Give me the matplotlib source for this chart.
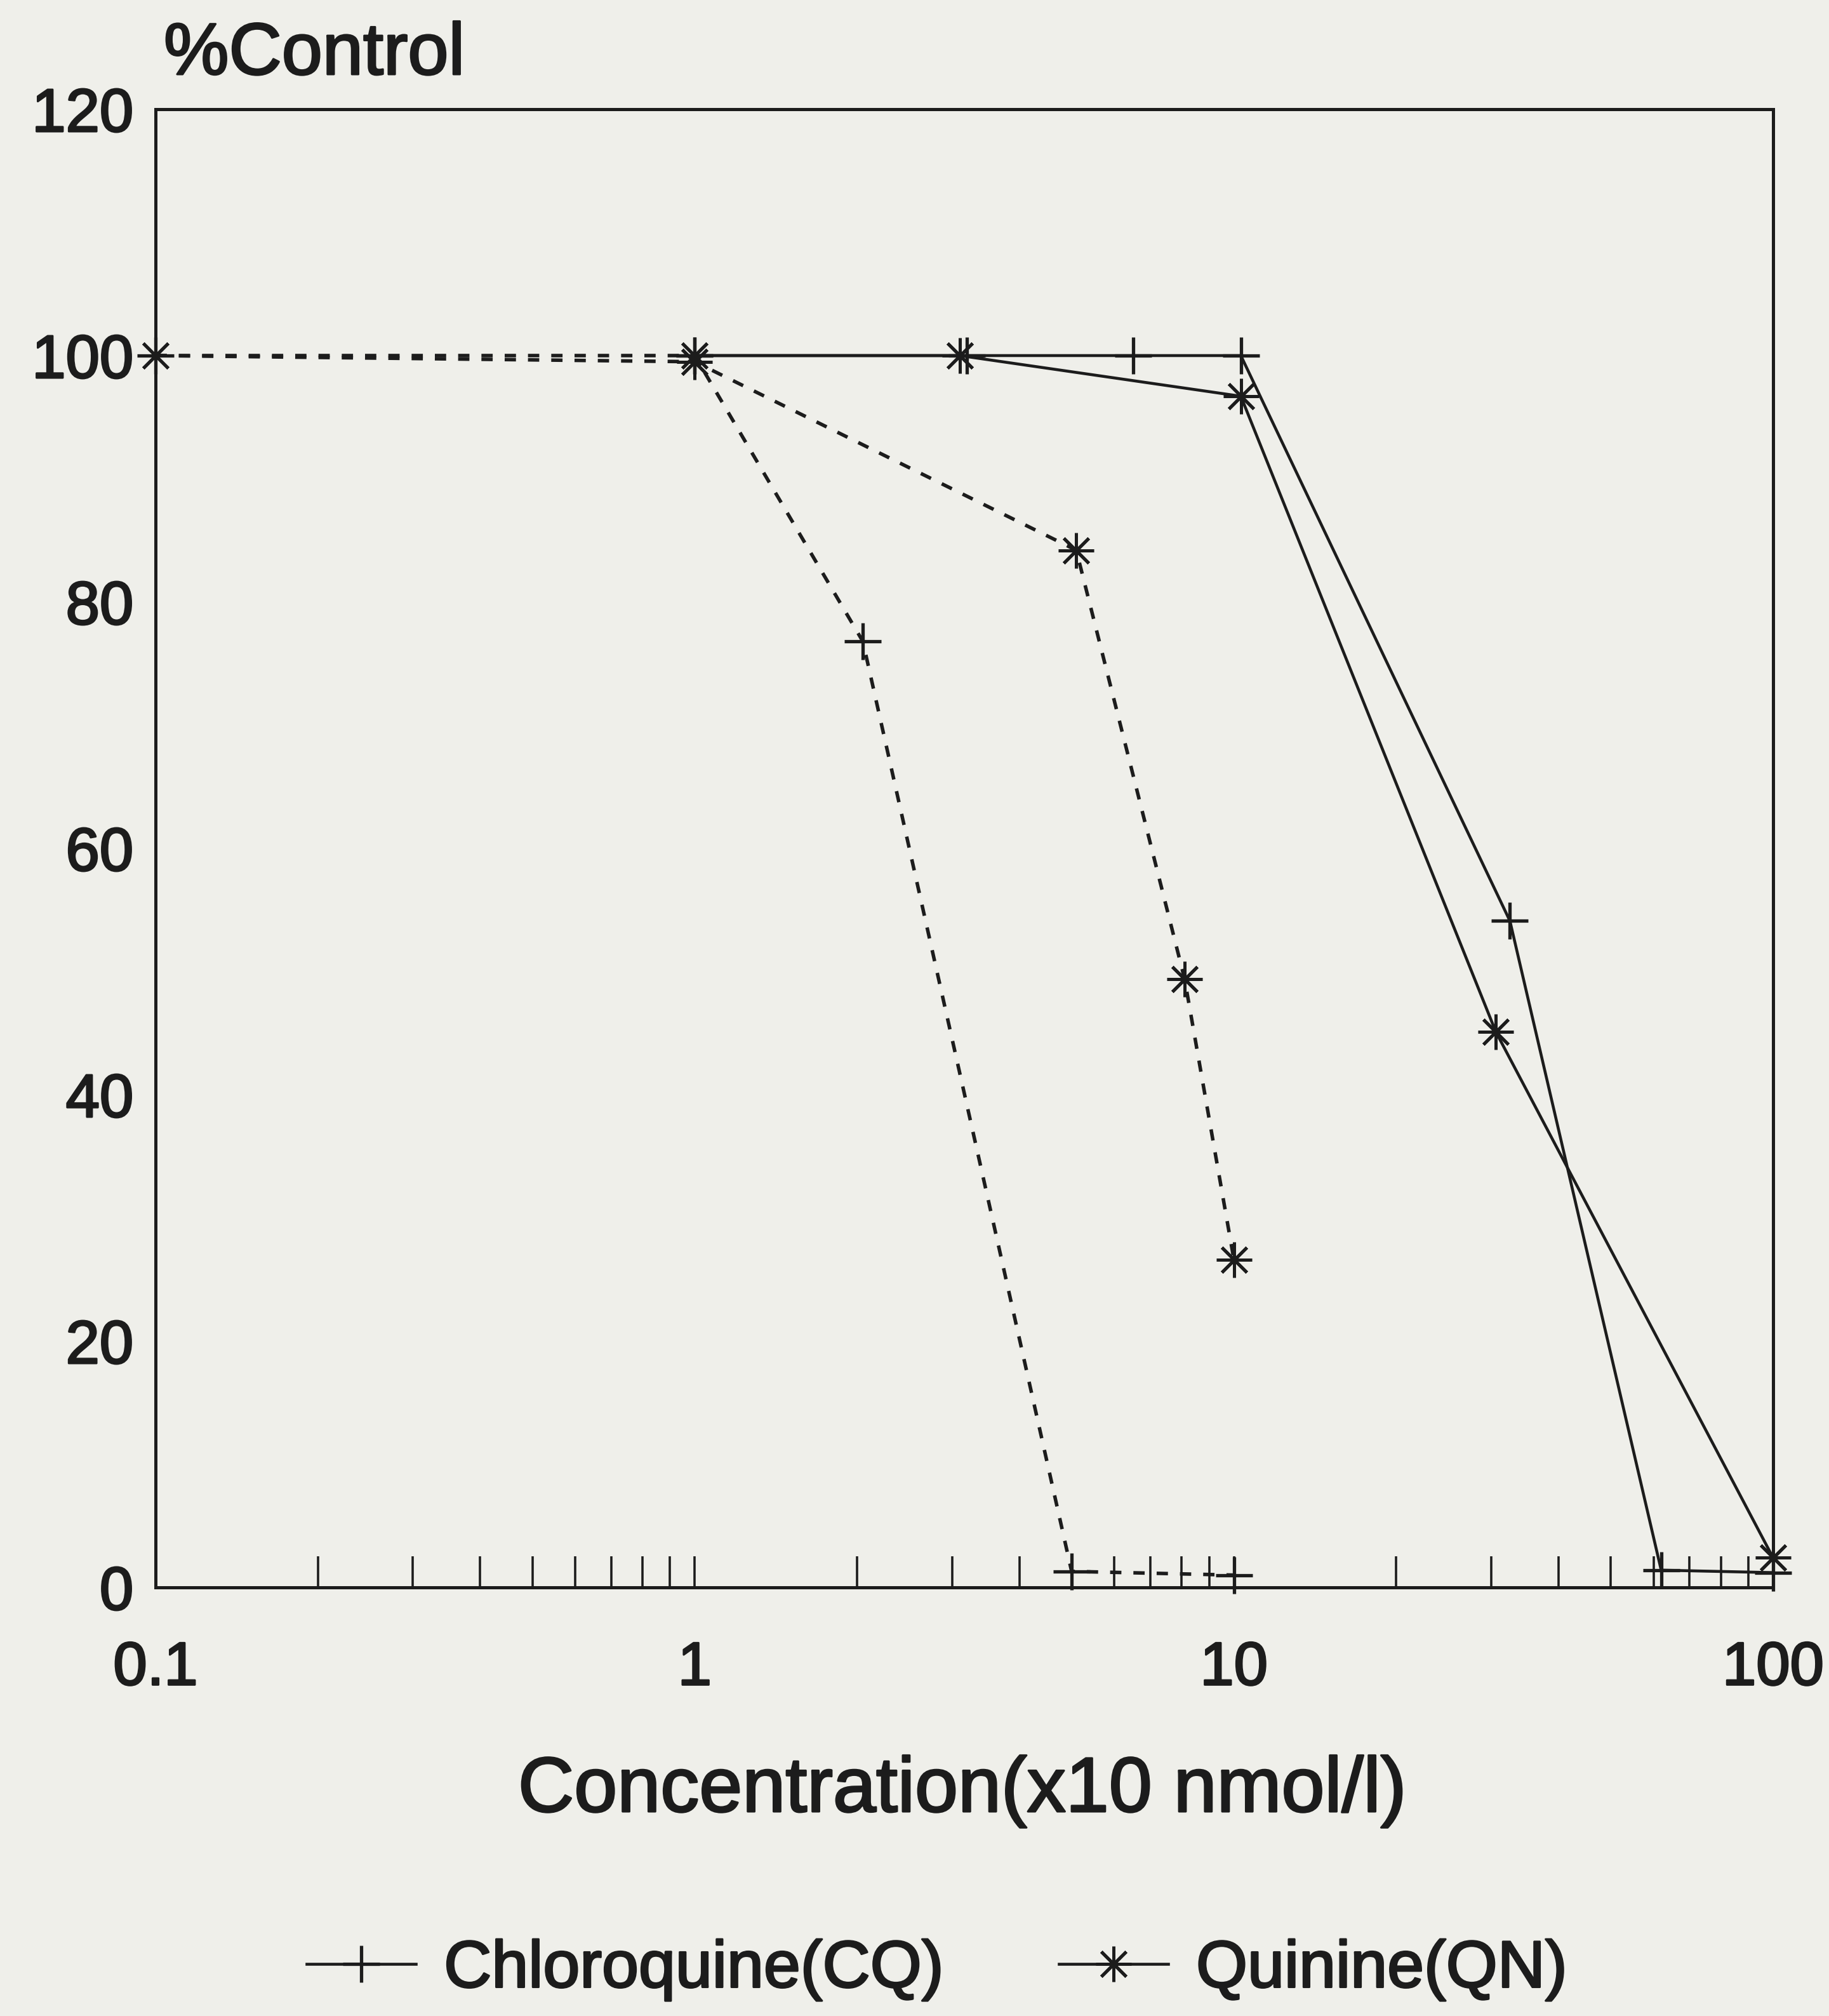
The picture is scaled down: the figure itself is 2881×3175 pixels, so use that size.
import matplotlib
matplotlib.use("Agg")
import matplotlib.pyplot as plt
import matplotlib.patheffects as pe
from matplotlib.lines import Line2D
from matplotlib.ticker import LogLocator, NullFormatter, FixedLocator, FixedFormatter

plt.rcParams['font.family'] = ['Liberation Sans', 'DejaVu Sans']

# ---- data ----
cq_solid_x = [1, 3.2, 6.5, 10.3, 32.5, 62, 100]
cq_solid_y = [100, 100, 100, 100, 54.1, 1.4, 1.2]
qn_solid_x = [1, 3.1, 10.3, 30.6, 100]
qn_solid_y = [100, 100, 96.7, 45.1, 2.4]
cq_dash_x = [0.1, 1, 2.05, 5, 10]
cq_dash_y = [100, 100, 76.8, 1.3, 1.0]
qn_dash_x = [0.1, 1, 5.1, 8.1, 10]
qn_dash_y = [100, 99.5, 84.2, 49.4, 26.6]

x_tick_vals = [0.1, 1, 10, 100]
x_tick_labels = ["0.1", "1", "10", "100"]
y_tick_vals = [0, 20, 40, 60, 80, 100, 120]
y_tick_labels = ["0", "20", "40", "60", "80", "100", "120"]
legend_labels = ["Chloroquine(CQ)", "Quinine(QN)"]

W, H = 2881, 3175
bg = '#efefea'
ink = '#1c1c1c'
thick = [pe.withStroke(linewidth=2.2, foreground=ink)]

fig = plt.figure(figsize=(W / 100, H / 100), dpi=100, facecolor=bg)
left, right = 245 / W, 2793 / W
bottom, top = 1 - 2500 / H, 1 - 172 / H
ax = fig.add_axes([left, bottom, right - left, top - bottom], facecolor=bg)

ax.set_xscale('log')
ax.set_xlim(0.1, 100)
ax.set_ylim(0, 120)

lw = 3.3
plus = dict(marker='+', ms=42, mew=3.8)
star = dict(marker=(8, 2, 0), ms=40, mew=3.6)
dash = (0, (3.2, 3.4))

ax.plot(cq_solid_x, cq_solid_y, color=ink, lw=lw, clip_on=False, **plus)
ax.plot(qn_solid_x, qn_solid_y, color=ink, lw=lw, clip_on=False, **star)
ax.plot(cq_dash_x, cq_dash_y, color=ink, lw=4.0, ls=dash, clip_on=False, **plus)
ax.plot(qn_dash_x, qn_dash_y, color=ink, lw=4.0, ls=dash, clip_on=False, **star)

for s in ax.spines.values():
    s.set_linewidth(3.6)
    s.set_color(ink)

ax.xaxis.set_major_locator(FixedLocator(x_tick_vals))
ax.xaxis.set_major_formatter(FixedFormatter(x_tick_labels))
ax.xaxis.set_minor_locator(LogLocator(base=10, subs=[2, 3, 4, 5, 6, 7, 8, 9], numticks=20))
ax.xaxis.set_minor_formatter(NullFormatter())
ax.tick_params(axis='x', which='both', direction='in', length=35, width=2.6,
               color=ink, top=False)
ax.tick_params(axis='x', which='major', pad=60, labelsize=69, labelcolor=ink)

ax.yaxis.set_major_locator(FixedLocator(y_tick_vals))
ax.yaxis.set_major_formatter(FixedFormatter(y_tick_labels))
ax.tick_params(axis='y', which='both', length=0, pad=25, labelsize=69, labelcolor=ink)

for lab in ax.get_xticklabels() + ax.get_yticklabels():
    lab.set_path_effects(thick)

fig.text(258 / W, 1 - 117 / H, "%Control", fontsize=83, color=ink,
         ha='left', va='baseline', path_effects=thick)
fig.text(1516 / W, 1 - 2853 / H, "Concentration(x10 nmol/l)", fontsize=88,
         color=ink, ha='center', va='baseline', path_effects=thick)

handles = [Line2D([], [], color=ink, lw=lw, **plus),
           Line2D([], [], color=ink, lw=lw, **star)]
leg = fig.legend(handles, legend_labels, loc='center',
                 bbox_to_anchor=(1476 / W, 1 - 3103 / H), ncol=2, frameon=False,
                 fontsize=75, handlelength=1.65, handletextpad=0.42,
                 columnspacing=1.75, numpoints=1, labelcolor=ink)
for t in leg.get_texts():
    t.set_path_effects(thick)

fig.savefig("out.png", dpi=100, facecolor=bg)
